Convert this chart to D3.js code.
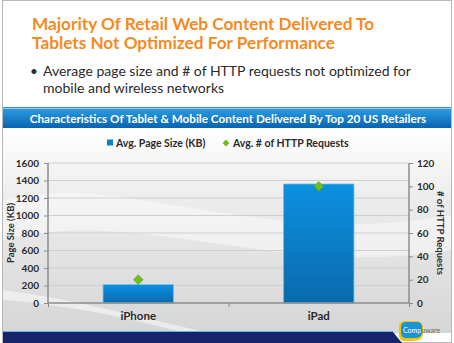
<!DOCTYPE html>
<html>
<head>
<meta charset="utf-8">
<script src="https://cdn.jsdelivr.net/npm/d3@7"></script>
<style>
  body { margin: 0; background: #fff; }
  svg { display: block; font-family: Lato, "Open Sans", sans-serif; }
</style>
</head>
<body>
<svg id="chart"></svg>
<script>
const categories = ["iPhone", "iPad"];
const pageSize = [210, 1360];
const httpRequests = [20, 100];
const leftTicks = [0, 200, 400, 600, 800, 1000, 1200, 1400, 1600];
const rightTicks = [0, 20, 40, 60, 80, 100, 120];

const width = 454, height = 343;
const svg = d3.select("#chart").attr("width", width).attr("height", height);
const defs = svg.append("defs");

// slide frame
svg.append("rect").attr("x", 2.5).attr("y", 0.5).attr("width", 449).attr("height", 342)
  .attr("fill", "#fff").attr("stroke", "#b8b8b8");

// titles
const title = svg.append("text").attr("fill", "#f58a1f").attr("font-weight", 700).attr("font-size", 17.2);
title.append("tspan").attr("x", 32).attr("y", 30).text("Majority Of Retail Web Content Delivered To");
title.append("tspan").attr("x", 32).attr("y", 49).text("Tablets Not Optimized For Performance");

svg.append("text").attr("x", 30).attr("y", 76).attr("fill", "#2b2b2b").attr("font-size", 13.5).text("\u2022");
const bullet = svg.append("text").attr("fill", "#2b2b2b").attr("font-size", 14);
bullet.append("tspan").attr("x", 43).attr("y", 76).text("Average page size and # of HTTP requests not optimized for");
bullet.append("tspan").attr("x", 43).attr("y", 93).text("mobile and wireless networks");

// header band
const hg = defs.append("linearGradient").attr("id", "hdr").attr("x1", 0).attr("y1", 0).attr("x2", 0).attr("y2", 1);
hg.append("stop").attr("offset", 0).attr("stop-color", "#2a9be0");
hg.append("stop").attr("offset", 1).attr("stop-color", "#0a63b0");
svg.append("rect").attr("x", 3).attr("y", 107).attr("width", 448).attr("height", 1.5).attr("fill", "#3a8fd0");
svg.append("rect").attr("x", 3).attr("y", 109).attr("width", 448).attr("height", 19).attr("fill", "url(#hdr)");
svg.append("text").attr("x", 228).attr("y", 122.5).attr("text-anchor", "middle")
  .attr("fill", "#fff").attr("font-weight", 700).attr("font-size", 11.7)
  .text("Characteristics  Of Tablet & Mobile Content Delivered By Top 20 US Retailers");

// chart background
const bg = defs.append("linearGradient").attr("id", "bg").attr("x1", 0).attr("y1", 0).attr("x2", 0).attr("y2", 1);
bg.append("stop").attr("offset", 0).attr("stop-color", "#ffffff");
bg.append("stop").attr("offset", 0.35).attr("stop-color", "#ececec");
bg.append("stop").attr("offset", 1).attr("stop-color", "#d6d6d6");
svg.append("rect").attr("x", 3).attr("y", 128).attr("width", 448).attr("height", 205).attr("fill", "url(#bg)");
svg.append("path").attr("d", "M3,200 C120,170 260,250 451,215 L451,250 C280,280 140,205 3,240 Z")
  .attr("fill", "#fff").attr("opacity", 0.45);
svg.append("path").attr("d", "M3,290 C80,300 150,320 210,333 L185,333 C130,318 70,305 3,300 Z")
  .attr("fill", "#fff").attr("opacity", 0.5);

// bottom navy band
svg.append("path").attr("d", "M3,332 L393,332 L402,343 L3,343 Z").attr("fill", "#16256a");
svg.append("path").attr("d", "M3,331.5 L393,331.5").attr("stroke", "#5fb4e8").attr("stroke-width", 1);

// scales
const plot = { left: 48, right: 409, top: 163, bottom: 303 };
const x = d3.scaleBand().domain(categories).range([plot.left, plot.right])
  .paddingInner(0.61).paddingOuter(0.305);
const yL = d3.scaleLinear().domain([0, 1600]).range([plot.bottom, plot.top]);
const yR = d3.scaleLinear().domain([0, 120]).range([plot.bottom, plot.top]);

// gridlines
svg.append("g").selectAll("line").data(leftTicks.slice(1)).join("line")
  .attr("x1", plot.left).attr("x2", plot.right)
  .attr("y1", d => yL(d)).attr("y2", d => yL(d))
  .attr("stroke", "#cfcfcf").attr("stroke-width", 1);

// bars
const barG = defs.append("linearGradient").attr("id", "bar").attr("x1", 0).attr("y1", 0).attr("x2", 0).attr("y2", 1);
barG.append("stop").attr("offset", 0).attr("stop-color", "#0c90e0");
barG.append("stop").attr("offset", 1).attr("stop-color", "#0a6aae");
svg.append("g").selectAll("rect").data(categories).join("rect")
  .attr("x", d => x(d)).attr("width", x.bandwidth())
  .attr("y", (d, i) => yL(pageSize[i])).attr("height", (d, i) => plot.bottom - yL(pageSize[i]))
  .attr("fill", "url(#bar)").attr("stroke", "#6cc0ee").attr("stroke-width", 0.8);

// axes
const axisColor = "#8c8c8c";
const leftAxis = svg.append("g").attr("transform", `translate(${plot.left},0)`)
  .call(d3.axisLeft(yL).tickValues(leftTicks).tickFormat(d3.format("d")).tickSize(4).tickPadding(5));
const rightAxis = svg.append("g").attr("transform", `translate(${plot.right},0)`)
  .call(d3.axisRight(yR).tickValues(rightTicks).tickFormat(d3.format("d")).tickSize(4).tickPadding(4));
const bottomAxis = svg.append("g").attr("transform", `translate(0,${plot.bottom})`)
  .call(d3.axisBottom(d3.scaleLinear().domain([0, 2]).range([plot.left, plot.right]))
    .tickValues([0, 1, 2]).tickSize(4).tickFormat(""));
[leftAxis, rightAxis, bottomAxis].forEach(g => {
  g.select(".domain").attr("stroke", axisColor).attr("stroke-width", 1.5);
  g.selectAll(".tick line").attr("stroke", axisColor);
  g.selectAll("text").attr("fill", "#2b2b2b").attr("font-size", 10).attr("font-weight", 700)
    .attr("font-family", "Lato, sans-serif");
});
bottomAxis.select(".domain").attr("d", `M${plot.left},0H${plot.right}`);
leftAxis.select(".domain").attr("d", `M0,${plot.top}V${plot.bottom}`);
rightAxis.select(".domain").attr("d", `M0,${plot.top}V${plot.bottom}`);

// category labels
svg.append("g").selectAll("text").data(categories).join("text")
  .attr("x", d => x(d) + x.bandwidth() / 2).attr("y", 320)
  .attr("text-anchor", "middle").attr("fill", "#2b2b2b")
  .attr("font-weight", 700).attr("font-size", 11.5).text(d => d);

// diamonds
svg.append("g").selectAll("path").data(categories).join("path")
  .attr("transform", (d, i) => `translate(${x(d) + x.bandwidth() / 2},${yR(httpRequests[i])})`)
  .attr("d", d3.symbol(d3.symbolDiamond2, 60))
  .attr("fill", "#6cbf1c").attr("stroke", "#4e9a10").attr("stroke-width", 0.5);

// axis titles
svg.append("text").attr("transform", "translate(14,233) rotate(-90)")
  .attr("text-anchor", "middle").attr("fill", "#2b2b2b").attr("font-weight", 700).attr("font-size", 9.5)
  .text("Page Size (KB)");
svg.append("text").attr("transform", "translate(437,233) rotate(90)")
  .attr("text-anchor", "middle").attr("fill", "#2b2b2b").attr("font-weight", 700).attr("font-size", 9.5)
  .text("# of HTTP Requests");

// legend
const legend = svg.append("g").attr("font-size", 10.5).attr("font-weight", 700).attr("fill", "#2b2b2b");
legend.append("rect").attr("x", 107).attr("y", 139.5).attr("width", 6).attr("height", 6).attr("fill", "#0a80cf");
legend.append("text").attr("x", 116).attr("y", 147).text("Avg. Page Size (KB)");
legend.append("path").attr("transform", "translate(226,143)")
  .attr("d", d3.symbol(d3.symbolDiamond2, 30)).attr("fill", "#6cbf1c");
legend.append("text").attr("x", 233).attr("y", 147).text("Avg. # of HTTP Requests");

// Compuware logo
const logo = svg.append("g").attr("transform", "translate(398,321)");
logo.append("path").attr("d", "M1,7 Q0,1 7,0 L18,0 Q25,0 25,7 L25,12 Q25,20 15,20 L7,20 Q1,20 1,14 Z")
  .attr("fill", "#f5c400");
logo.append("path").attr("d", "M3,6 Q3,1 8,1 L19,1 Q24,1 24,6 L24,11 Q24,17 16,17 L8,17 Q3,17 3,12 Z")
  .attr("fill", "#1a93d8");
logo.append("text").attr("x", 5).attr("y", 11.5).attr("font-size", 7).attr("fill", "#fff")
  .text("Comp").append("tspan").attr("fill", "#666").text("uware");
</script>
</body>
</html>
